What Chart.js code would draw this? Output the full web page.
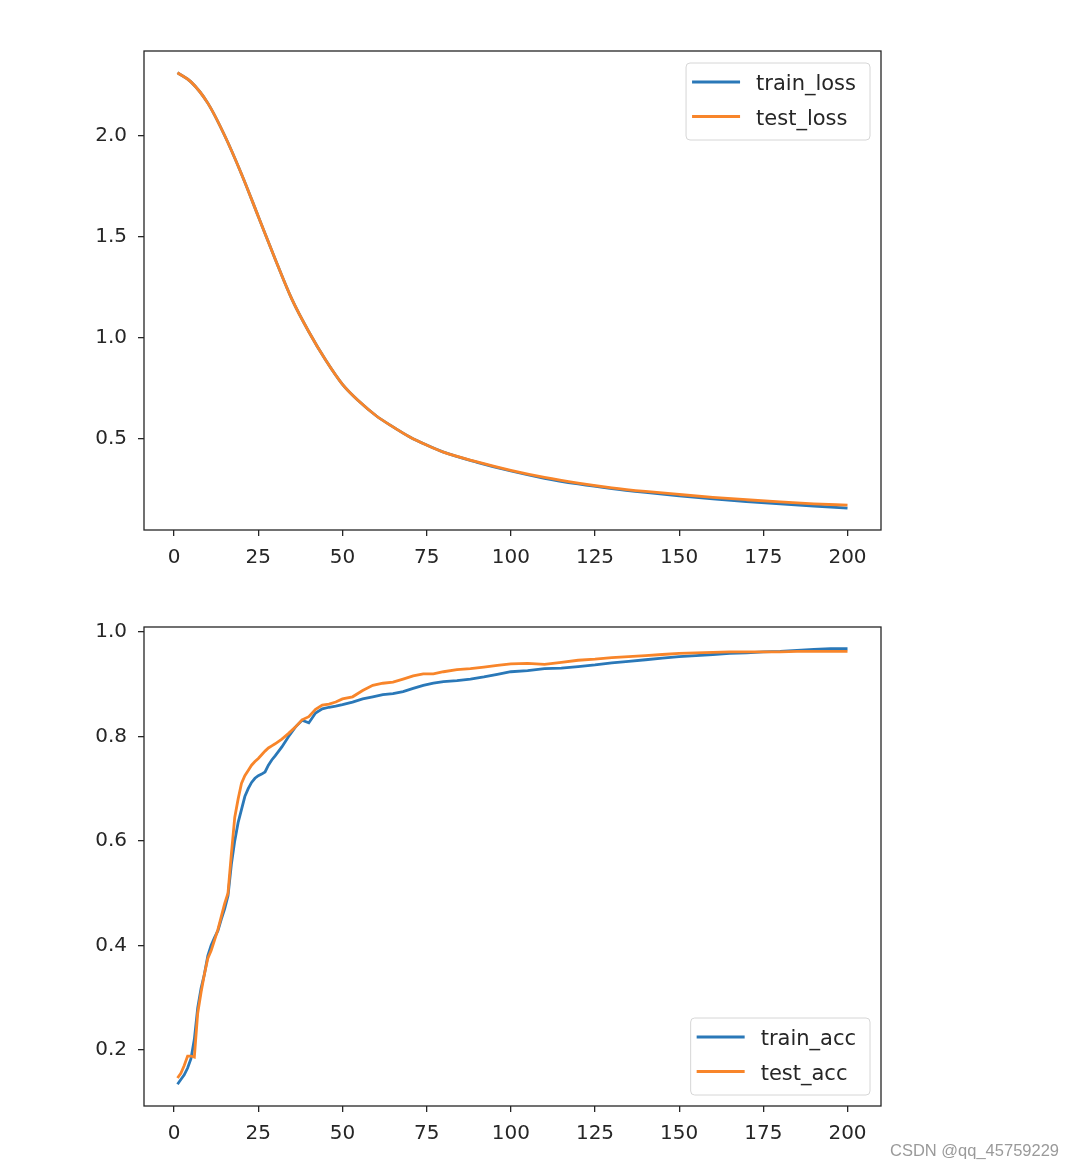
<!DOCTYPE html>
<html>
<head>
<meta charset="utf-8">
<script src="https://cdn.jsdelivr.net/npm/chart.js@4.4.1/dist/chart.umd.min.js"></script>
<style>
html,body{margin:0;padding:0;background:#fff;width:1074px;height:1168px;overflow:hidden;}
#c1{position:absolute;left:0;top:0;}
#c2{position:absolute;left:0;top:590px;}
#wm{position:absolute;left:890px;top:1141px;font-family:"Liberation Sans",Arial,sans-serif;font-size:16.5px;line-height:18px;color:#9a9a9a;white-space:nowrap;}
</style>
</head>
<body>
<canvas id="c1" width="1074" height="590"></canvas>
<canvas id="c2" width="1074" height="578"></canvas>
<div id="wm">CSDN @qq_45759229</div>
<script>
// ---------- data ----------
const xTicks = [0, 25, 50, 75, 100, 125, 150, 175, 200];
const lossTicks = [0.5, 1.0, 1.5, 2.0];
const accTicks = [0.2, 0.4, 0.6, 0.8, 1.0];

const lossEpochs = [1,5,10,15,20,25,30,35,40,45,50,55,60,65,70,75,80,90,100,110,120,130,140,150,160,170,180,190,200];
const trainLoss = [2.31,2.265,2.16,2.00,1.81,1.60,1.39,1.19,1.03,0.89,0.77,0.685,0.615,0.56,0.51,0.47,0.435,0.385,0.342,0.306,0.278,0.255,0.236,0.219,0.204,0.191,0.180,0.169,0.158];
const testLoss  = [2.31,2.265,2.16,2.00,1.81,1.60,1.39,1.19,1.03,0.89,0.77,0.685,0.615,0.56,0.51,0.47,0.435,0.387,0.345,0.310,0.282,0.259,0.241,0.226,0.212,0.200,0.189,0.180,0.173];

const accEpochs = [1,2,3,4,5,6,7,8,9,10,11,12,13,14,15,16,17,18,19,20,21,22,23,24,25,26,27,28,29,30,32,34,36,38,40,42,44,46,48,50,53,56,59,62,65,68,71,74,77,80,84,88,92,96,100,105,110,115,120,125,130,135,140,145,150,155,160,165,170,175,180,185,190,195,200];
const trainAcc = [0.134,0.143,0.152,0.165,0.183,0.22,0.28,0.318,0.345,0.38,0.40,0.415,0.428,0.45,0.47,0.495,0.555,0.60,0.635,0.66,0.685,0.70,0.712,0.72,0.725,0.728,0.732,0.745,0.755,0.763,0.78,0.80,0.818,0.831,0.826,0.845,0.853,0.856,0.858,0.861,0.866,0.872,0.876,0.880,0.882,0.886,0.892,0.898,0.902,0.905,0.907,0.910,0.914,0.919,0.924,0.926,0.930,0.931,0.934,0.937,0.941,0.944,0.947,0.950,0.953,0.955,0.957,0.959,0.960,0.962,0.963,0.965,0.967,0.968,0.968];
const testAcc  = [0.146,0.155,0.170,0.188,0.188,0.186,0.27,0.31,0.345,0.375,0.39,0.41,0.43,0.455,0.48,0.50,0.575,0.645,0.68,0.71,0.725,0.735,0.745,0.752,0.758,0.765,0.772,0.778,0.782,0.786,0.795,0.806,0.818,0.832,0.838,0.852,0.860,0.862,0.866,0.872,0.876,0.888,0.898,0.902,0.904,0.910,0.916,0.920,0.920,0.924,0.928,0.930,0.933,0.936,0.939,0.940,0.938,0.942,0.946,0.948,0.951,0.953,0.955,0.957,0.959,0.960,0.961,0.962,0.962,0.962,0.962,0.963,0.963,0.963,0.963];

// ---------- style ----------
const FONT = '"DejaVu Sans", sans-serif';
const FS = 20;
const LFS = 21;
const TXT = '#262626';
const BLUE = '#2a78b8';
const ORANGE = '#f8852a';

function pts(xs, ys){ return xs.map((x,i)=>({x:x, y:ys[i]})); }
function padRange(arrs){
  let mn=Infinity, mx=-Infinity;
  arrs.forEach(a=>a.forEach(v=>{ if(v<mn)mn=v; if(v>mx)mx=v; }));
  const m=(mx-mn)*0.05; return [mn-m, mx+m];
}

const framePlugin = {
  id:'frame',
  afterDatasetsDraw(chart){
    const {ctx, chartArea:a} = chart;
    ctx.save();
    ctx.strokeStyle = TXT; ctx.lineWidth = 1.3;
    ctx.strokeRect(a.left, a.top, a.right-a.left, a.bottom-a.top);
    ctx.restore();
  }
};

const legendPlugin = {
  id:'mplLegend',
  afterDraw(chart, args, opts){
    const {ctx, chartArea:a} = chart;
    ctx.save();
    ctx.font = LFS + 'px ' + FONT;
    const ds = chart.data.datasets;
    let tw = 0; ds.forEach(d=>{ tw = Math.max(tw, ctx.measureText(d.label).width); });
    const w = 6 + 48 + 16 + tw + 14;
    const h = 77;
    const right = a.right - 11;
    const left = right - w;
    const top = opts.pos === 'top' ? a.top + 12 : a.bottom - 11 - h;
    ctx.beginPath();
    const r = 4;
    ctx.moveTo(left+r, top);
    ctx.lineTo(right-r, top); ctx.quadraticCurveTo(right, top, right, top+r);
    ctx.lineTo(right, top+h-r); ctx.quadraticCurveTo(right, top+h, right-r, top+h);
    ctx.lineTo(left+r, top+h); ctx.quadraticCurveTo(left, top+h, left, top+h-r);
    ctx.lineTo(left, top+r); ctx.quadraticCurveTo(left, top, left+r, top);
    ctx.closePath();
    ctx.fillStyle = 'rgba(255,255,255,0.85)'; ctx.fill();
    ctx.strokeStyle = '#d6d6d6'; ctx.lineWidth = 1; ctx.stroke();
    ds.forEach((d,i)=>{
      const cy = top + 19 + i*34.5;
      ctx.strokeStyle = d.borderColor; ctx.lineWidth = 2.8;
      ctx.beginPath(); ctx.moveTo(left+6, cy); ctx.lineTo(left+54, cy); ctx.stroke();
      ctx.fillStyle = TXT; ctx.textBaseline = 'middle'; ctx.textAlign = 'left';
      ctx.fillText(d.label, left+70, cy+3);
    });
    ctx.restore();
  }
};

function makeChart(canvasId, datasets, yTicks, yRange, padTop, xAxisH, legendPos){
  const xs = xTicks.slice();
  return new Chart(document.getElementById(canvasId), {
    type:'line',
    data:{ datasets: datasets },
    options:{
      responsive:false, animation:false, devicePixelRatio:1,
      layout:{ padding:{ left:0, right:193, top:padTop, bottom:0 } },
      plugins:{ legend:{display:false}, tooltip:{enabled:false}, mplLegend:{pos:legendPos} },
      elements:{ point:{ radius:0 } },
      scales:{
        x:{
          type:'linear', min:-8.95, max:209.95,
          afterBuildTicks(s){ s.ticks = xs.map(v=>({value:v})); },
          afterFit(s){ s.height = xAxisH; },
          grid:{ drawOnChartArea:false, drawTicks:true, tickLength:6, color:TXT, lineWidth:1.3 },
          border:{ display:false },
          ticks:{ autoSkip:false, maxRotation:0, padding:10, color:TXT, font:{family:FONT, size:FS}, callback:v=>String(v) }
        },
        y:{
          type:'linear', min:yRange[0], max:yRange[1],
          afterBuildTicks(s){ s.ticks = yTicks.map(v=>({value:v})); },
          afterFit(s){ s.width = 144; },
          grid:{ drawOnChartArea:false, drawTicks:true, tickLength:6, color:TXT, lineWidth:1.3 },
          border:{ display:false },
          ticks:{ autoSkip:false, padding:11, color:TXT, font:{family:FONT, size:FS}, callback:v=>Number(v).toFixed(1) }
        }
      }
    },
    plugins:[framePlugin, legendPlugin]
  });
}

makeChart('c1', [
  { label:'train_loss', data:pts(lossEpochs, trainLoss), borderColor:BLUE, borderWidth:2.8, cubicInterpolationMode:'monotone', fill:false, order:1 },
  { label:'test_loss', data:pts(lossEpochs, testLoss), borderColor:ORANGE, borderWidth:2.8, cubicInterpolationMode:'monotone', fill:false, order:0 }
], lossTicks, padRange([trainLoss, testLoss]), 51, 60, 'top');

makeChart('c2', [
  { label:'train_acc', data:pts(accEpochs, trainAcc), borderColor:BLUE, borderWidth:2.8, tension:0, fill:false, order:1 },
  { label:'test_acc', data:pts(accEpochs, testAcc), borderColor:ORANGE, borderWidth:2.8, tension:0, fill:false, order:0 }
], accTicks, padRange([trainAcc, testAcc]), 37, 62, 'bottom');
</script>
</body>
</html>
